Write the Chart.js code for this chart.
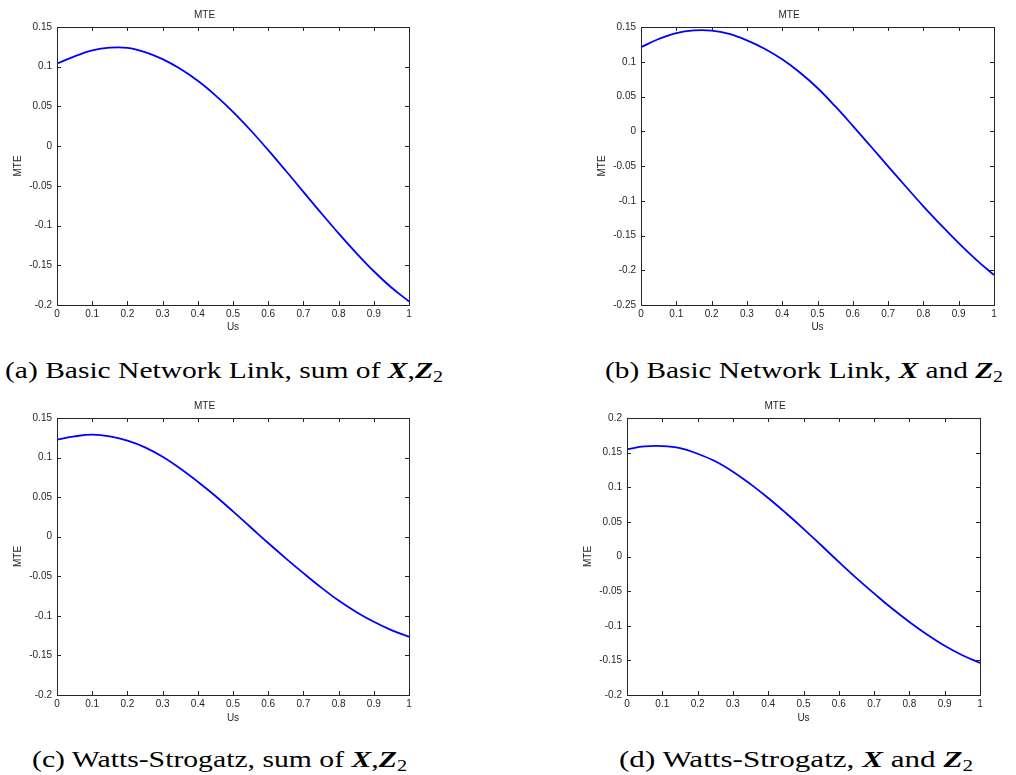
<!DOCTYPE html>
<html>
<head>
<meta charset="utf-8">
<script src="https://cdn.jsdelivr.net/npm/chart.js@4.4.1/dist/chart.umd.min.js"></script>
<style>
  html, body { margin: 0; padding: 0; background: #ffffff; }
  body { width: 1016px; height: 775px; position: relative; overflow: hidden; }
  .panel { position: absolute; width: 430px; height: 340px; }
  .cap { position: absolute; white-space: nowrap; font-family: "Liberation Serif", "DejaVu Serif", serif;
         font-size: 24px; line-height: 1; color: #000; transform-origin: 0 0; }
  .cap b { font-weight: bold; font-style: italic; }
  .cap .sub { font-size: 0.68em; position: relative; top: 0.22em; font-weight: normal; font-style: normal; }
</style>
</head>
<body>
<div class="panel" id="pa"><canvas id="ca"></canvas></div>
<div class="panel" id="pb"><canvas id="cb"></canvas></div>
<div class="panel" id="pc"><canvas id="cc"></canvas></div>
<div class="panel" id="pd"><canvas id="cd"></canvas></div>

<div class="cap" id="capA" data-w="438">(a) Basic Network Link, sum of <b>X</b>,<b>Z</b><span class="sub">2</span></div>
<div class="cap" id="capB" data-w="398">(b) Basic Network Link, <b>X</b> and <b>Z</b><span class="sub">2</span></div>
<div class="cap" id="capC" data-w="375">(c) Watts-Strogatz, sum of <b>X</b>,<b>Z</b><span class="sub">2</span></div>
<div class="cap" id="capD" data-w="354">(d) Watts-Strogatz, <b>X</b> and <b>Z</b><span class="sub">2</span></div>

<script>
// ---------------- data ----------------
const usValues = [0, 0.05, 0.1, 0.15, 0.2, 0.25, 0.3, 0.35, 0.4, 0.45, 0.5,
                  0.55, 0.6, 0.65, 0.7, 0.75, 0.8, 0.85, 0.9, 0.95, 1];
const mteA = [0.104, 0.113, 0.1205, 0.1240, 0.1238, 0.1185, 0.1096, 0.0974, 0.0823, 0.0640, 0.0432,
              0.0200, -0.0050, -0.0310, -0.0575, -0.0840, -0.1098, -0.1345, -0.1575, -0.1780, -0.1955];
const mteB = [0.121, 0.1327, 0.1413, 0.1450, 0.1447, 0.1400, 0.1308, 0.1188, 0.1035, 0.0845, 0.0622,
              0.0360, 0.0078, -0.0212, -0.0505, -0.0795, -0.1080, -0.1350, -0.1610, -0.1850, -0.2070];
const mteC = [0.1226, 0.1268, 0.1289, 0.1268, 0.1213, 0.1129, 0.1010, 0.0862, 0.0695, 0.0515, 0.0320,
              0.0120, -0.0080, -0.0273, -0.0460, -0.0640, -0.0807, -0.0950, -0.1075, -0.1180, -0.1265];
const mteD = [0.155, 0.1590, 0.1595, 0.1566, 0.1484, 0.1375, 0.1225, 0.1045, 0.0845, 0.0628, 0.0400,
              0.0162, -0.0078, -0.0312, -0.0533, -0.0748, -0.0945, -0.1127, -0.1290, -0.1426, -0.1537];
const xTicks = [0, 0.1, 0.2, 0.3, 0.4, 0.5, 0.6, 0.7, 0.8, 0.9, 1];
const yRangeA = [-0.2, 0.15];
const yRangeB = [-0.25, 0.15];
const yRangeC = [-0.2, 0.15];
const yRangeD = [-0.2, 0.2];
const yStep = 0.05;
const plotTitle = 'MTE';
const xLabel = 'Us';
const yLabel = 'MTE';

// ---------------- layout ----------------
const panels = [
  { el: 'pa', cv: 'ca', left: 0,   top: 0,   plotRight: 409, plotBottom: 305, data: mteA, range: yRangeA },
  { el: 'pb', cv: 'cb', left: 584, top: 0,   plotRight: 994, plotBottom: 305, data: mteB, range: yRangeB },
  { el: 'pc', cv: 'cc', left: 0,   top: 391, plotRight: 409, plotBottom: 695, data: mteC, range: yRangeC },
  { el: 'pd', cv: 'cd', left: 570, top: 391, plotRight: 980, plotBottom: 695, data: mteD, range: yRangeD }
];
const PANEL_W = 430, PANEL_H = 340, Y_AXIS_W = 57;
const TEXT = '#262626';

Chart.defaults.font.family = '"Liberation Sans", Arial, sans-serif';
Chart.defaults.font.size = 10;
Chart.defaults.color = TEXT;

const boxTicks = {
  id: 'boxTicks',
  afterDatasetsDraw(chart) {
    const ctx = chart.ctx;
    const { left, right, top, bottom } = chart.chartArea;
    const xs = chart.scales.x, ys = chart.scales.y;
    const L = 4;
    ctx.save();
    ctx.strokeStyle = '#262626';
    ctx.lineWidth = 1;
    ctx.beginPath();
    xs.ticks.forEach(t => {
      const p = Math.round(xs.getPixelForValue(t.value)) + 0.5;
      ctx.moveTo(p, bottom); ctx.lineTo(p, bottom - L);
      ctx.moveTo(p, top); ctx.lineTo(p, top + L);
    });
    ys.ticks.forEach(t => {
      const p = Math.round(ys.getPixelForValue(t.value)) + 0.5;
      ctx.moveTo(left, p); ctx.lineTo(left + L, p);
      ctx.moveTo(right, p); ctx.lineTo(right - L, p);
    });
    ctx.stroke();
    ctx.strokeRect(Math.round(left) + 0.5, Math.round(top) + 0.5,
                   Math.round(right - left), Math.round(bottom - top));
    ctx.restore();
  }
};

function fmt(v) { return String(+Number(v).toFixed(2)); }

panels.forEach(p => {
  const div = document.getElementById(p.el);
  div.style.left = p.left + 'px';
  div.style.top = p.top + 'px';
  const xHeight = PANEL_H - (p.plotBottom - p.top);
  const padRight = PANEL_W - (p.plotRight - p.left);
  new Chart(document.getElementById(p.cv), {
    type: 'line',
    data: {
      datasets: [{
        data: usValues.map((u, i) => ({ x: u, y: p.data[i] })),
        borderColor: '#0000ff',
        borderWidth: 1.8,
        pointRadius: 0,
        tension: 0.4,
        fill: false
      }]
    },
    options: {
      responsive: true,
      maintainAspectRatio: false,
      animation: false,
      events: [],
      layout: { padding: { left: 0, right: padRight, top: 0, bottom: 0 } },
      plugins: {
        legend: { display: false },
        tooltip: { enabled: false },
        title: {
          display: true, text: plotTitle, color: TEXT,
          font: { size: 10, weight: 'normal', lineHeight: 1.2 },
          padding: { top: 9, bottom: 6 }
        }
      },
      scales: {
        x: {
          type: 'linear', min: 0, max: 1,
          afterBuildTicks: s => { s.ticks = xTicks.map(v => ({ value: v })); },
          afterFit: s => { s.height = xHeight; },
          grid: { display: false, drawTicks: false },
          border: { display: false },
          ticks: { padding: 3, autoSkip: false, maxRotation: 0, color: TEXT, callback: fmt },
          title: { display: true, text: xLabel, color: TEXT, padding: { top: 0, bottom: 7 },
                   font: { size: 10, lineHeight: 1.2 } }
        },
        y: {
          type: 'linear', min: p.range[0], max: p.range[1],
          ticks: { stepSize: yStep, padding: 5, color: TEXT, callback: fmt },
          afterFit: s => { s.width = Y_AXIS_W; },
          grid: { display: false, drawTicks: false },
          border: { display: false },
          title: { display: true, text: yLabel, color: TEXT, padding: { top: 12, bottom: 0 },
                   font: { size: 10, lineHeight: 1.2 } }
        }
      }
    },
    plugins: [boxTicks]
  });
});

// captions
const capPos = { capA: [5, 358], capB: [605, 358], capC: [32, 747], capD: [619, 747] };
function placeCaps() {
  Object.keys(capPos).forEach(id => {
    const el = document.getElementById(id);
    el.style.left = capPos[id][0] + 'px';
    el.style.top = capPos[id][1] + 'px';
    el.style.transform = 'none';
    const w = el.getBoundingClientRect().width;
    const target = +el.dataset.w;
    el.style.transform = 'scaleX(' + (target / w) + ')';
  });
}
placeCaps();
if (document.fonts && document.fonts.ready) document.fonts.ready.then(placeCaps);
</script>
</body>
</html>
